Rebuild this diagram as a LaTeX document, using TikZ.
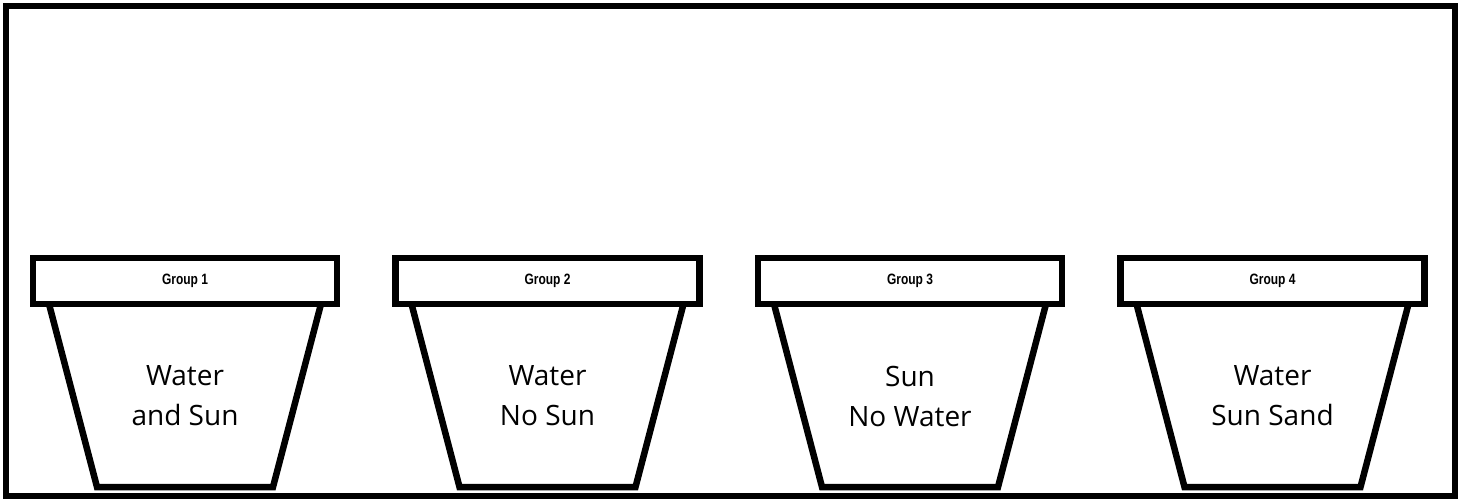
\documentclass[tikz,border=0pt]{standalone}
\usepackage{fontspec}
\setmainfont{Open Sans}
\newfontfamily\grpfont[FakeStretch=0.8]{Liberation Sans}
\usetikzlibrary{positioning}

\begin{document}
\begin{tikzpicture}[
		x = 1pt, y = -1pt, % pixel units, y runs down
		line width = 6.5pt, % thick outlines
		line join = miter,
		rim/.style = {draw, rectangle, minimum width=304pt, minimum height=46pt,
			inner sep=0pt, font=\grpfont\fontsize{15}{17}\selectfont\bfseries},
		pottext/.style = {align=center, font=\fontsize{28}{40}\selectfont}
		]
		
		\useasboundingbox (0,0) rectangle (1462,502);
		\draw[line width=6pt] (5.5,6) rectangle (1455,496);
		
		\foreach \i/\txt in {1/{Water\\and Sun}, 2/{Water\\No Sun},
			3/{Sun\\No Water}, 4/{Water\\Sun Sand}} {
			\pgfmathsetmacro{\cx}{185+362.5*(\i-1)}
			\node[rim] (rim\i) at (\cx,281) {Group \i};
			\draw (\cx-136,304) -- (\cx-88,487) -- (\cx+88,487) -- (\cx+136,304);
			\node[pottext] (txt\i) at (\cx,396) {\txt};
		}
	\end{tikzpicture}
\end{document}
